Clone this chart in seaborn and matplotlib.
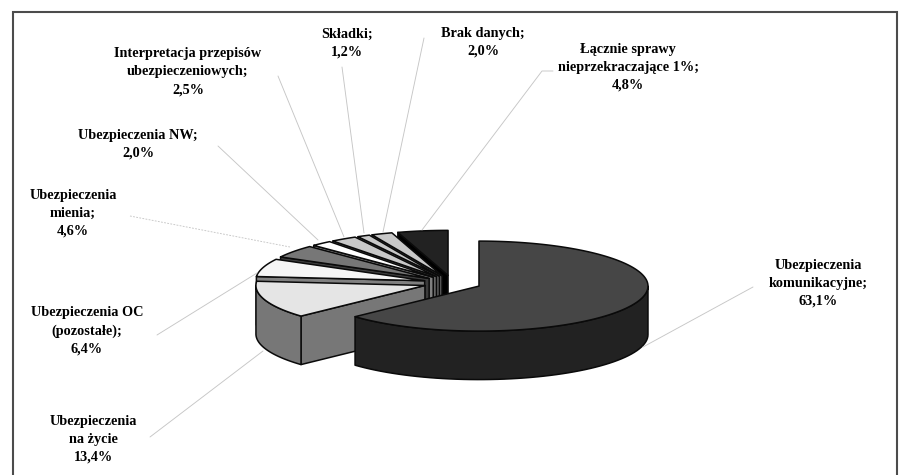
import numpy as np
import matplotlib
matplotlib.use("Agg")
import matplotlib.pyplot as plt
import seaborn as sns

# Shares of complaints by insurance area, clockwise from twelve o'clock
categories = [
    "Ubezpieczenia\nkomunikacyjne;",
    "Ubezpieczenia\nna życie",
    "Ubezpieczenia OC\n(pozostałe);",
    "Ubezpieczenia\nmienia;",
    "Ubezpieczenia NW;",
    "Interpretacja przepisów\nubezpieczeniowych;",
    "Składki;",
    "Brak danych;",
    "Łącznie sprawy\nnieprzekraczające 1%;",
]
shares = [63.1, 13.4, 6.4, 4.6, 2.0, 2.5, 1.2, 2.0, 4.8]
top_colors = ["#464646", "#e5e5e5", "#f5f5f5", "#777777", "#ffffff",
              "#c8c8c8", "#c8c8c8", "#c8c8c8", "#222222"]
side_colors = ["#222222", "#777777", "#808080", "#3c3c3c", "#808080",
               "#646464", "#646464", "#646464", "#000000"]

# Layout, in pixels of the canvas
WIDTH, HEIGHT = 902, 475
CX, CY = 452.4, 283.0
RX, RY = 169.0, 45.0
EXPLODE = 29.0
DEPTH = 48.5

label_centers = [(818, 283), (93, 439), (87, 331), (73, 213), (138, 144),
                 (188, 72), (347, 43), (483, 42), (628, 67)]
leader_paths = [
    [(753, 287), (643, 347)],
    [(150, 437), (263, 351)],
    [(157, 335), (257, 273)],
    [(130, 216), (290, 247)],
    [(218, 146), (318, 240)],
    [(278, 76), (344, 237)],
    [(342, 67), (364, 233)],
    [(424, 38), (383, 232)],
    [(553, 71), (542, 71), (422, 230)],
]
leader_styles = ["-", "-", "-", (0, (2, 1.5)), "-", "-", "-", "-", "-"]

sns.set_theme(style="white")
plt.rcParams["font.family"] = ["Liberation Serif", "DejaVu Serif"]

fig = plt.figure(figsize=(WIDTH / 100, HEIGHT / 100), dpi=100, facecolor="white")
ax = fig.add_axes([0, 0, 1, 1])
ax.set_xlim(0, WIDTH)
ax.set_ylim(HEIGHT, 0)
ax.axis("off")


def rim(theta_deg, ox, oy, drop=0.0):
    t = np.radians(theta_deg)
    return np.column_stack([ox + RX * np.sin(t), oy - RY * np.cos(t) + drop])


def face(points, color, z):
    ax.fill(points[:, 0], points[:, 1], facecolor=color, edgecolor="#0a0a0a",
            linewidth=1.1, joinstyle="round", zorder=z)


edges = np.concatenate([[0.0], np.cumsum(shares)]) * 3.6 / (sum(shares) / 100)

# Slices go from the back of the pie to the front so nearer ones overlap
for z, i in enumerate([8, 7, 6, 5, 4, 3, 2, 1, 0]):
    a, b = edges[i], edges[i + 1]
    mid = np.radians((a + b) / 2)
    ox = CX + EXPLODE * np.sin(mid)
    oy = CY - EXPLODE * (RY / RX) * np.cos(mid)
    origin = np.array([[ox, oy]])
    low = origin + [[0, DEPTH]]
    base = 10 * z

    # Cut face on the leading edge, shown when it turns towards the viewer
    if np.cos(np.radians(a - 90)) < 0:
        e = rim(np.array([a]), ox, oy)
        face(np.vstack([origin, e, e + [0, DEPTH], low]), side_colors[i], base)

    # Outer wall: only the part of the rim on the front half
    lo, hi = max(a, 90.0), min(b, 270.0)
    if hi > lo:
        arc = rim(np.linspace(lo, hi, 60), ox, oy)
        face(np.vstack([arc, arc[::-1] + [0, DEPTH]]), side_colors[i], base + 1)

    theta = np.linspace(a, b, max(3, int(b - a) + 2))
    face(np.vstack([origin, rim(theta, ox, oy)]), top_colors[i], base + 2)

# Leader lines and category labels
for name, share, center, path, style in zip(categories, shares, label_centers,
                                            leader_paths, leader_styles):
    xs, ys = zip(*path)
    ax.plot(xs, ys, color="#c6c6c6", lw=0.65, ls=style, zorder=200)
    value = f"{share:.1f}".replace(".", ",") + "%"
    ax.text(center[0], center[1], f"{name}\n{value}", ha="center", va="center",
            ma="center", fontsize=10.3, fontweight="bold", color="#000000",
            linespacing=1.5, zorder=300)

# Frame around the chart; it runs off the lower edge of the canvas
ax.plot([13, 13, 897, 897], [HEIGHT + 5, 12, 12, HEIGHT + 5], color="#4c4c4c",
        lw=1.5, solid_joinstyle="miter", zorder=400)

fig.savefig("out.png", dpi=100, facecolor="white")
